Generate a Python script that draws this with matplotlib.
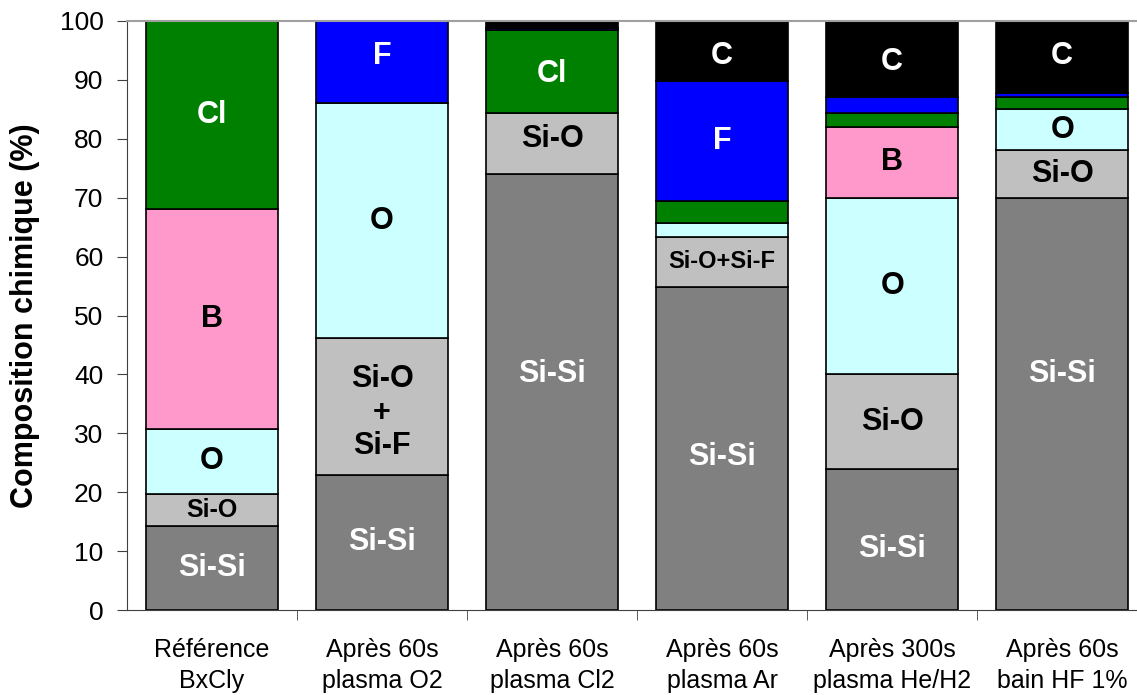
import numpy as np
import matplotlib.pyplot as plt

plt.rcParams['font.family'] = ['Liberation Sans', 'DejaVu Sans']

# categories and compositions (%), stacked from bottom to top
categories = ["Référence\nBxCly", "Après 60s\nplasma O2", "Après 60s\nplasma Cl2",
              "Après 60s\nplasma Ar", "Après 300s\nplasma He/H2", "Après 60s\nbain HF 1%"]
components = ["Si-Si", "Si-O", "O", "B", "Cl", "F", "C"]
si_si = [14.3, 23.0, 74.0, 54.9, 24.0, 70.0]
si_o = [5.4, 23.1, 10.4, 8.5, 16.0, 8.1]
oxy = [11.1, 39.9, 0.0, 2.3, 30.0, 6.9]
bore = [37.2, 0.0, 0.0, 0.0, 12.0, 0.0]
chlore = [32.0, 0.0, 14.0, 3.7, 2.4, 2.1]
fluor = [0.0, 14.0, 0.4, 20.4, 2.7, 0.7]
carbone = [0.0, 0.0, 1.2, 10.2, 12.9, 12.2]
series = [si_si, si_o, oxy, bore, chlore, fluor, carbone]

colors = ["#808080", "#C0C0C0", "#CCFFFF", "#FF99CC", "#008000", "#0000FF", "#000000"]

# segment labels: (bar, component index, text, colour, size, y override)
labels = [
    (0, 0, "Si-Si", "white", 22, None), (0, 1, "Si-O", "black", 18, None),
    (0, 2, "O", "black", 22, None), (0, 3, "B", "black", 22, None),
    (0, 4, "Cl", "white", 22, None),
    (1, 0, "Si-Si", "white", 22, None), (1, 1, "Si-O\n+\nSi-F", "black", 22, 33.5),
    (1, 2, "O", "black", 22, None), (1, 5, "F", "white", 22, 94),
    (2, 0, "Si-Si", "white", 22, 40), (2, 1, "Si-O", "black", 22, 80),
    (2, 4, "Cl", "white", 22, 91),
    (3, 0, "Si-Si", "white", 22, 26), (3, 1, "Si-O+Si-F", "black", 17, None),
    (3, 5, "F", "white", 22, None), (3, 6, "C", "white", 22, 94),
    (4, 0, "Si-Si", "white", 22, 10.4), (4, 1, "Si-O", "black", 22, None),
    (4, 2, "O", "black", 22, None), (4, 3, "B", "black", 22, None),
    (4, 6, "C", "white", 22, 93),
    (5, 0, "Si-Si", "white", 22, 40), (5, 1, "Si-O", "black", 22, None),
    (5, 2, "O", "black", 22, None), (5, 6, "C", "white", 22, 94),
]

fig = plt.figure(figsize=(11.37, 6.95), dpi=100)
ax = fig.add_axes([127 / 1137, 1 - 610 / 695, 1010 / 1137, 589 / 695])

x = np.arange(len(categories))
vals = np.array(series)
bottoms = np.vstack([np.zeros(len(categories)), np.cumsum(vals, axis=0)[:-1]])

for i, comp in enumerate(components):
    for j in x:
        if vals[i, j] > 0:
            ax.bar(j, vals[i, j], bottom=bottoms[i, j], width=0.78,
                   color=colors[i], edgecolor="black", linewidth=1.2, zorder=2)

for j, i, txt, col, size, ypos in labels:
    y = ypos if ypos is not None else bottoms[i, j] + vals[i, j] / 2
    ax.text(j, y, txt, ha="center", va="center", color=col,
            fontsize=size, fontweight="bold", linespacing=1.15, zorder=3)

ax.set_xlim(-0.5, 5.44)
ax.set_ylim(0, 100)
ax.set_yticks(np.arange(0, 101, 10))
ax.set_xticks(x)
ax.set_xticklabels(categories, fontsize=18, linespacing=1.4)
ax.set_xticks(np.arange(0.5, 5, 1), minor=True)
ax.tick_params(axis="x", which="major", length=0, pad=20)
ax.tick_params(axis="x", which="minor", length=7, color="#404040", direction="out")
ax.tick_params(axis="y", labelsize=19, length=7, color="#404040", direction="out", pad=10)
ax.set_ylabel("Composition chimique (%)", fontsize=22, fontweight="bold", labelpad=14)

ax.spines["right"].set_visible(False)
ax.spines["top"].set_color("#A0A0A0")
ax.spines["top"].set_linewidth(1.5)
ax.spines["left"].set_color("#404040")
ax.spines["bottom"].set_color("#404040")

fig.savefig("out.png", dpi=100)
